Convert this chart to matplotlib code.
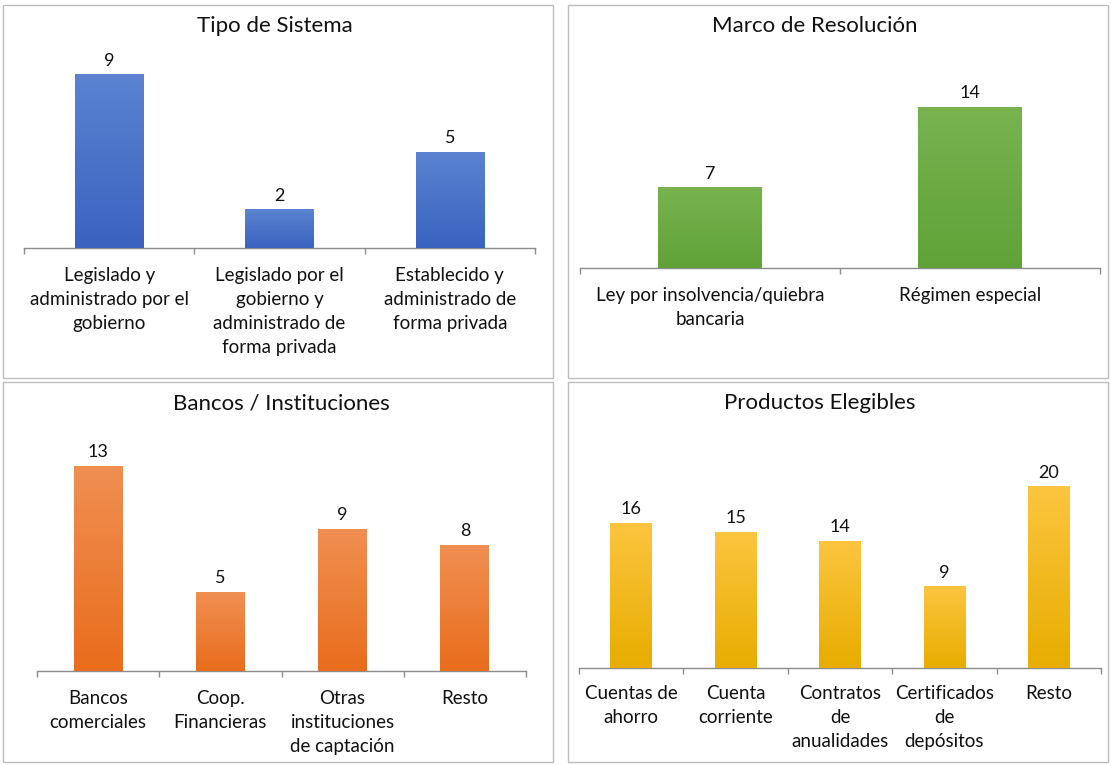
import numpy as np
import matplotlib
matplotlib.use('Agg')
import matplotlib.pyplot as plt
from matplotlib.colors import LinearSegmentedColormap
from matplotlib.patches import Rectangle

plt.rcParams['font.family'] = ['Lato', 'DejaVu Sans']

# datos de cada panel
tipo_labels = ['Legislado y\nadministrado por el\ngobierno',
               'Legislado por el\ngobierno y\nadministrado de\nforma privada',
               'Establecido y\nadministrado de\nforma privada']
tipo_values = [9, 2, 5]

marco_labels = ['Ley por insolvencia/quiebra\nbancaria', 'Régimen especial']
marco_values = [7, 14]

bancos_labels = ['Bancos\ncomerciales', 'Coop.\nFinancieras',
                 'Otras\ninstituciones\nde captación', 'Resto']
bancos_values = [13, 5, 9, 8]

productos_labels = ['Cuentas de\nahorro', 'Cuenta\ncorriente', 'Contratos\nde\nanualidades',
                    'Certificados\nde\ndepósitos', 'Resto']
productos_values = [16, 15, 14, 9, 20]

W, H = 1111, 765
fig = plt.figure(figsize=(W / 100, H / 100), dpi=100)


def px_rect(x0, y_top, x1, y_bot):
    # pixeles (origen arriba-izquierda) -> fracciones de figura
    return [x0 / W, 1 - y_bot / H, (x1 - x0) / W, (y_bot - y_top) / H]


# marcos de los paneles
for (x0, y0, x1, y1) in [(3, 5, 553, 378), (568, 5, 1108, 378),
                         (3, 382, 553, 762), (568, 382, 1108, 762)]:
    fig.patches.append(Rectangle((x0 / W, 1 - y1 / H), (x1 - x0) / W, (y1 - y0) / H,
                                 transform=fig.transFigure, fill=False,
                                 edgecolor='#bdbdbd', linewidth=1.0))


def panel(rect, ymax, title, title_xy, labels, values, ctop, cbot, pad=14):
    ax = fig.add_axes(px_rect(*rect))
    n = len(values)
    x = np.arange(n)
    bars = ax.bar(x, values, width=0.4, color=cbot, zorder=2)
    cmap = LinearSegmentedColormap.from_list('g', [cbot, ctop])
    grad = np.linspace(0, 1, 100).reshape(-1, 1)
    for b in bars:
        im = ax.imshow(grad, cmap=cmap, origin='lower', aspect='auto',
                       extent=[b.get_x(), b.get_x() + b.get_width(), 0, b.get_height()],
                       zorder=3)
        im.set_clip_path(b)
        ax.annotate(f'{int(b.get_height())}',
                    xy=(b.get_x() + b.get_width() / 2, b.get_height()),
                    xytext=(0, 4), textcoords='offset points',
                    ha='center', va='bottom', fontsize=13, color='#111111')
    ax.set_xlim(-0.5, n - 0.5)
    ax.set_ylim(0, ymax)
    for s in ['top', 'left', 'right']:
        ax.spines[s].set_visible(False)
    ax.spines['bottom'].set_color('#8c8c8c')
    ax.spines['bottom'].set_linewidth(1.0)
    ax.set_yticks([])
    ax.set_xticks(x)
    ax.set_xticklabels(labels, fontsize=13.5, color='#111111', linespacing=1.5)
    ax.tick_params(axis='x', which='major', length=0, pad=pad)
    ax.set_xticks(np.arange(n + 1) - 0.5, minor=True)
    ax.tick_params(axis='x', which='minor', length=4, color='#8c8c8c', width=1.0)
    ax.patch.set_alpha(0)
    fig.text(title_xy[0] / W, 1 - title_xy[1] / H, title, ha='center', va='center',
             fontsize=16, color='#111111')
    return ax


panel((24, 55, 535, 248), 10, 'Tipo de Sistema', (275, 26),
      tipo_labels, tipo_values, '#5b83d2', '#3963bf')
panel((580, 72, 1100, 268), 17, 'Marco de Resolución', (815, 26),
      marco_labels, marco_values, '#78b350', '#60a238')
panel((37, 434, 526, 671), 15, 'Bancos / Instituciones', (281, 403),
      bancos_labels, bancos_values, '#f08f52', '#e96d1c')
panel((579, 450, 1101, 668), 24, 'Productos Elegibles', (820, 403),
      productos_labels, productos_values, '#fcc53f', '#e8ad00', pad=12)

fig.savefig('out.png', dpi=100)
